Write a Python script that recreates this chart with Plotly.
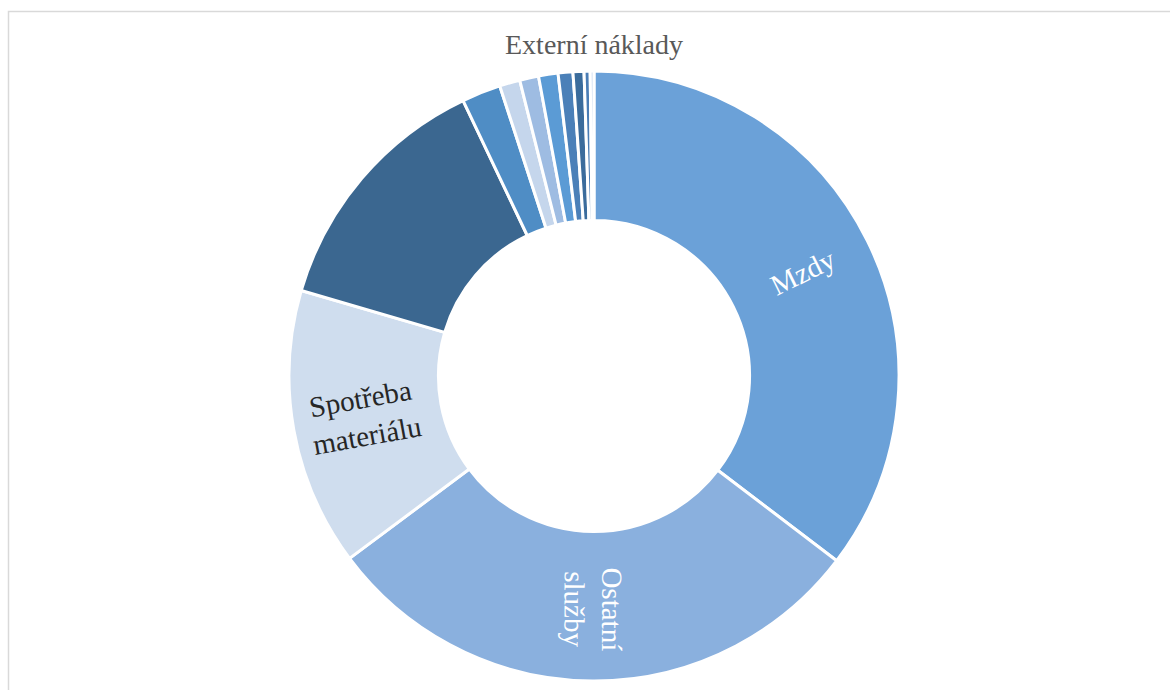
import math
import plotly.graph_objects as go

# Data (shares in %)
categories = [
    "Mzdy",
    "Ostatní služby",
    "Spotřeba materiálu",
    "Zákonné sociální pojištění",
    "Odpisy",
    "Spotřeba energie",
    "Opravy a udržování",
    "Cestovné",
    "Daně a poplatky",
    "Ostatní náklady",
    "Náklady na reprezentaci",
    "Pojištění",
]
values = [35.3, 29.4, 14.7, 13.4, 2.06, 1.08, 1.0, 1.03, 0.78, 0.58, 0.32, 0.2]
slice_text = ["Mzdy", "Ostatní<br>služby", "Spotřeba<br>materiálu",
              "", "", "", "", "", "", "", "", ""]
colors = ["#6BA1D8", "#8AB0DE", "#CFDDEE", "#3B6790", "#4F8DC5", "#C5D6EC",
          "#9EBCE2", "#5B9BD5", "#4B80B8", "#3B6C9C", "#4A7DB5", "#C9D9EE"]
text_colors = ["#FFFFFF", "#FFFFFF", "#262626"] + ["#FFFFFF"] * 9
title_text = "Externí náklady"

W, H = 1170, 690
cx, cy, R = 594, 376, 305
HOLE = 0.51

fig = go.Figure()
fig.add_trace(go.Pie(
    labels=categories,
    values=values,
    textinfo="none",
    sort=False,
    direction="clockwise",
    rotation=0,
    hole=HOLE,
    marker=dict(colors=colors, line=dict(color="#FFFFFF", width=3)),
    domain=dict(x=[(cx - R) / W, (cx + R) / W],
                y=[(H - cy - R) / H, (H - cy + R) / H]),
    showlegend=False,
    hoverinfo="label+percent",
))

# Slice labels placed at each slice's mid-angle, oriented radially
total = sum(values)
cum = 0.0
r_lab = R * (1 + HOLE) / 2 + 3
for v, t, c in zip(values, slice_text, text_colors):
    mid = (cum + v / 2) / total * 360.0
    cum += v
    if not t:
        continue
    rad = math.radians(mid)
    px = cx + r_lab * math.sin(rad)
    py = cy - r_lab * math.cos(rad)
    if mid <= 220:
        ang = mid - 90
    else:
        ang = mid - 270
    fig.add_annotation(
        text=t, xref="paper", yref="paper",
        x=px / W, y=1 - py / H, xanchor="center", yanchor="middle",
        showarrow=False, textangle=ang, align="center",
        font=dict(family="Liberation Serif", size=29, color=c),
    )

fig.add_annotation(
    text=title_text, xref="paper", yref="paper",
    x=cx / W, y=1 - 45 / H, xanchor="center", yanchor="middle",
    showarrow=False,
    font=dict(family="Liberation Serif", size=28, color="#595959"),
)

fig.add_shape(
    type="rect", xref="paper", yref="paper",
    x0=8.5 / W, x1=1.2, y0=-0.2, y1=1 - 11.5 / H,
    line=dict(color="#D9D9D9", width=1.5), fillcolor="rgba(0,0,0,0)",
)

fig.update_layout(
    width=W, height=H,
    margin=dict(l=0, r=0, t=0, b=0),
    paper_bgcolor="#FFFFFF",
    plot_bgcolor="#FFFFFF",
)

fig.write_html("out.html")
